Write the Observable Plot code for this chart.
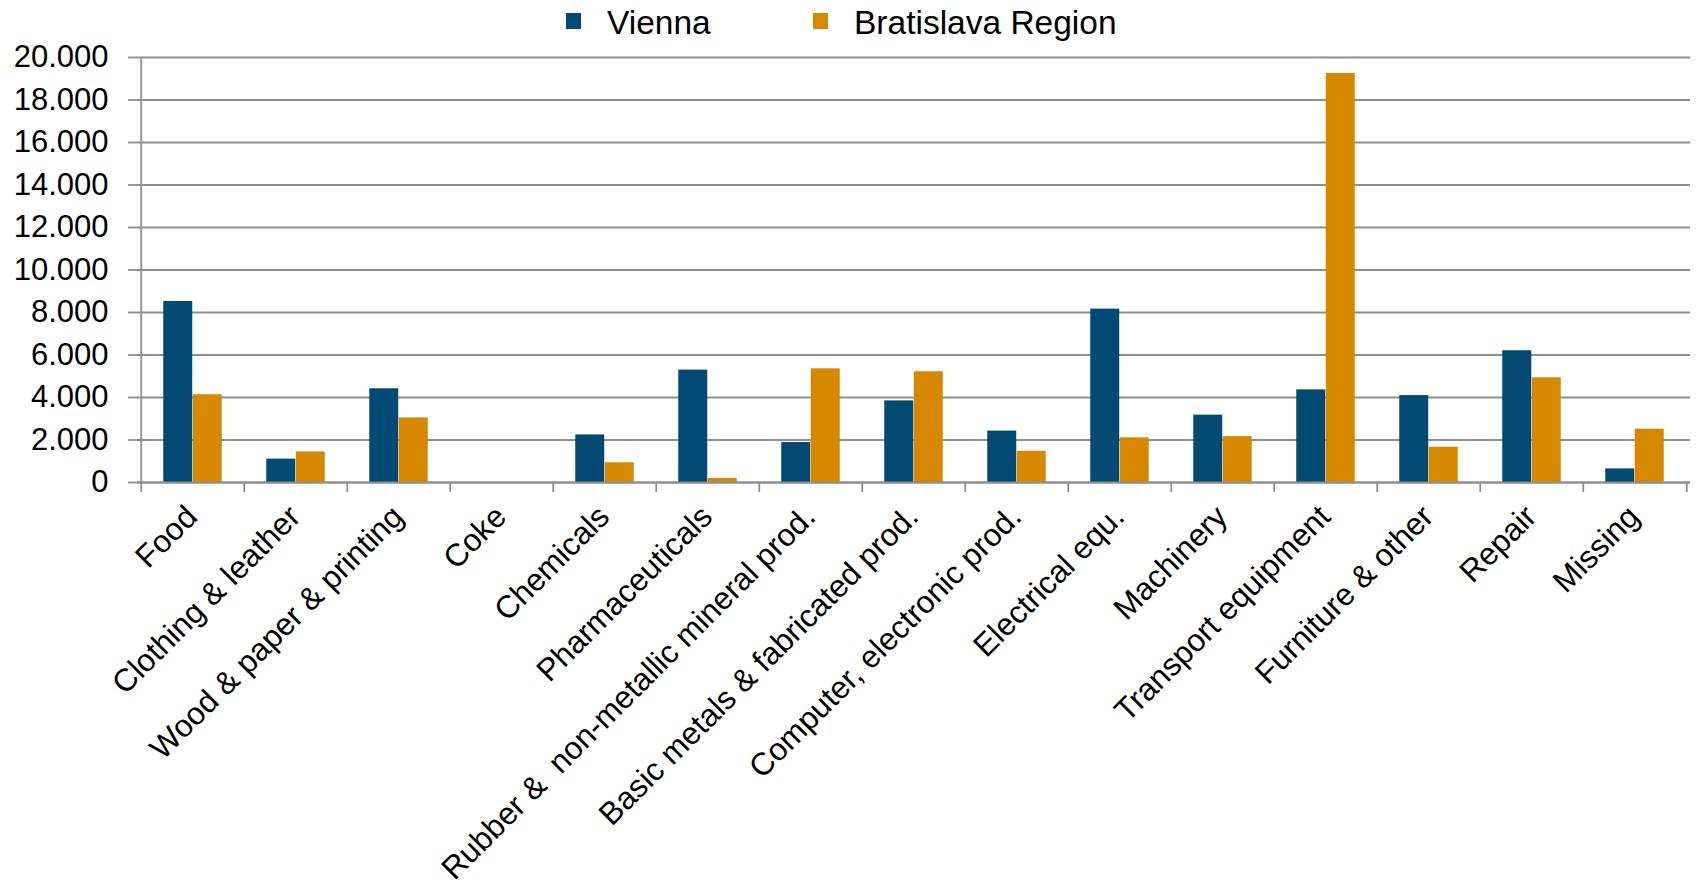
<!DOCTYPE html>
<html>
<head>
<meta charset="utf-8">
<script src="https://cdn.jsdelivr.net/npm/d3@7"></script>
<script src="https://cdn.jsdelivr.net/npm/@observablehq/plot@0.6"></script>
<style>
  html, body { margin: 0; padding: 0; background: #fff; }
  body { width: 1698px; height: 888px; overflow: hidden; font-family: "Liberation Sans", Arial, sans-serif; }
  #legend { position: relative; height: 40px; font-size: 33.5px; color: #000; }
  #legend .sw { position: absolute; top: 13px; width: 15px; height: 16px; }
  #legend .lb { position: absolute; top: 6px; line-height: 33px; white-space: nowrap; }
  svg text { white-space: pre; }
</style>
</head>
<body>
<div id="legend"></div>
<div id="chart"></div>
<script>
const categories = ["Food", "Clothing & leather", "Wood & paper & printing", "Coke", "Chemicals",
  "Pharmaceuticals", "Rubber &  non-metallic mineral prod.", "Basic metals & fabricated prod.",
  "Computer, electronic prod.", "Electrical equ.", "Machinery", "Transport equipment",
  "Furniture & other", "Repair", "Missing"];
const vienna =     [8520, 1100, 4410, 0, 2240, 5290, 1880, 3840, 2420, 8160, 3170, 4360, 4090, 6200, 640];
const bratislava = [4130, 1440, 3040, 0, 930, 190, 5350, 5210, 1470, 2100, 2160, 19250, 1660, 4930, 2510];
const seriesNames = ["Vienna", "Bratislava Region"];
const seriesColors = ["#024A73", "#D58800"];
const yTicks = [0, 2000, 4000, 6000, 8000, 10000, 12000, 14000, 16000, 18000, 20000];

const rowsV = categories.map((c, i) => ({category: c, value: vienna[i]}));
const rowsB = categories.map((c, i) => ({category: c, value: bratislava[i]}));

const width = 1698, height = 848;
const marginLeft = 137, marginRight = 8, marginTop = 17, marginBottom = 406;
const step = (width - marginLeft - marginRight) / categories.length;
const barW = 0.285 * step;
const outer = (step - 2 * barW) / 2;
const grid = "#8f8f8f";

const fmt = d3.formatLocale({decimal: ",", thousands: ".", grouping: [3], currency: ["", ""]}).format(",");

const plot = Plot.plot({
  width, height, marginLeft, marginRight, marginTop, marginBottom,
  style: {fontFamily: "Liberation Sans, Arial, sans-serif", fontSize: "31px", color: "#000", background: "#fff", overflow: "visible"},
  x: {type: "band", domain: categories, padding: 0, axis: null},
  y: {domain: [0, 20000], axis: null},
  marks: [
    Plot.ruleY(yTicks, {stroke: grid, strokeWidth: 1.8}),
    Plot.axisY({ticks: yTicks, tickFormat: fmt, tickSize: 9, tickPadding: 20, stroke: grid, strokeWidth: 1.8, fontSize: 31, fill: "#000", label: null}),
    Plot.barY(rowsV, {x: "category", y: "value", fill: seriesColors[0], insetLeft: outer, insetRight: outer + barW}),
    Plot.barY(rowsB, {x: "category", y: "value", fill: seriesColors[1], insetLeft: outer + barW, insetRight: outer}),
    Plot.ruleX([categories[0]], {x: d => d, dx: -step / 2, y1: 0, y2: 20000, stroke: grid, strokeWidth: 1.8}),
    Plot.ruleX(categories, {x: d => d, dx: -step / 2, y1: 0, y2: 0, insetBottom: -10, stroke: grid, strokeWidth: 1.8}),
    Plot.ruleX([categories[categories.length - 1]], {x: d => d, dx: step / 2, y1: 0, y2: 0, insetBottom: -10, stroke: grid, strokeWidth: 1.8}),
    Plot.ruleY([0], {stroke: grid, strokeWidth: 1.8}),
    Plot.axisX({tickRotate: -45, tickSize: 0, tickPadding: 29, dx: -1, fontSize: 31.5, fill: "#000", label: null})
  ]
});
document.getElementById("chart").appendChild(plot);

const legend = document.getElementById("legend");
const legendPos = [[566, 607], [813, 854]];
seriesNames.forEach((name, i) => {
  const sw = document.createElement("div");
  sw.className = "sw";
  sw.style.left = legendPos[i][0] + "px";
  sw.style.background = seriesColors[i];
  const lb = document.createElement("div");
  lb.className = "lb";
  lb.style.left = legendPos[i][1] + "px";
  lb.textContent = name;
  legend.appendChild(sw);
  legend.appendChild(lb);
});
</script>
</body>
</html>
